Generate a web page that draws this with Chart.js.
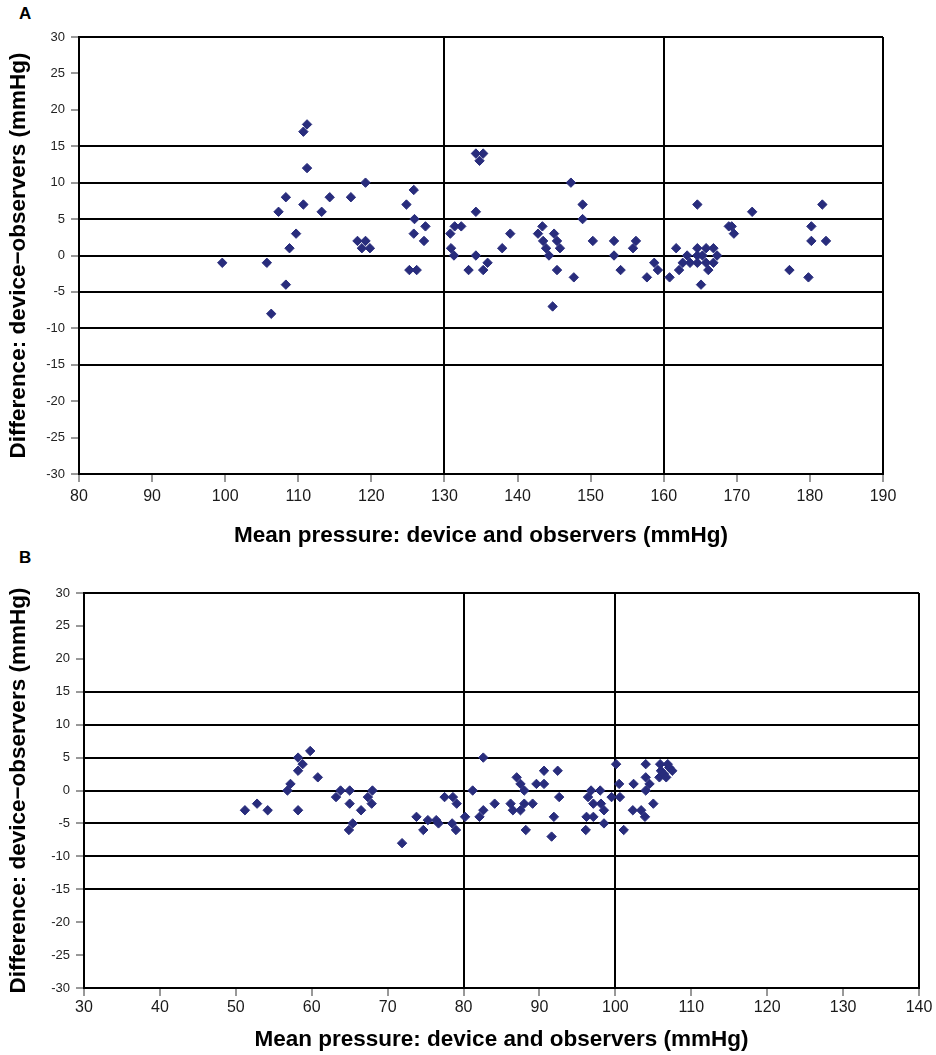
<!DOCTYPE html>
<html>
<head>
<meta charset="utf-8">
<script src="https://cdn.jsdelivr.net/npm/chart.js@4.4.1/dist/chart.umd.min.js"></script>
<style>
  html, body { margin:0; padding:0; background:#fff; }
  body { width:936px; height:1055px; position:relative; overflow:hidden; font-family:"Liberation Sans", Arial, sans-serif; }
  canvas { position:absolute; left:0; }
  .lbl { position:absolute; font-weight:bold; font-size:17px; color:#000; }
</style>
</head>
<body>
<div class="lbl" style="left:19px;top:4px;">A</div>
<div class="lbl" style="left:19px;top:548px;">B</div>
<canvas id="cA" width="936" height="550" style="top:0px;"></canvas>
<canvas id="cB" width="936" height="505" style="top:550px;"></canvas>
<script>
// ---- Panel A data ----
const meanA = [99.6,105.7,106.3,107.3,108.3,108.3,108.8,109.7,110.7,111.2,110.7,111.2,113.2,114.3,117.2,118.1,118.7,119.2,119.2,119.8,124.8,125.2,125.8,125.8,125.9,126.2,127.2,127.4,
130.8,130.9,131.3,131.4,132.3,133.3,134.3,134.3,134.3,134.8,135.3,135.3,135.9,137.9,139.0,142.8,143.4,143.5,143.9,144.3,144.8,145.0,145.4,145.4,145.8,147.3,147.7,148.9,148.9,150.3,153.2,153.2,154.1,155.8,156.2,157.7,158.7,159.2,
160.8,161.7,162.1,162.6,163.2,163.6,164.6,164.6,164.6,164.6,165.1,165.3,165.8,165.8,166.1,166.8,166.8,167.3,168.9,169.3,169.6,172.1,177.2,179.8,180.2,180.2,181.7,182.2];
const diffA = [-1,-1,-8,6,8,-4,1,3,17,18,7,12,6,8,8,2,1,2,10,1,7,-2,9,3,5,-2,2,4,
3,1,0,4,4,-2,6,0,14,13,14,-2,-1,1,3,3,4,2,1,0,-7,3,2,-2,1,10,-3,7,5,2,2,0,-2,1,2,-3,-1,-2,
-3,1,-2,-1,0,-1,7,1,0,-1,-4,0,1,-1,-2,1,-1,0,4,4,3,6,-2,-3,4,2,7,2];

// ---- Panel B data ----
const meanB = [51.2,52.8,54.2,56.8,57.2,58.2,58.2,58.2,58.8,59.8,60.8,63.2,63.8,64.9,65.0,65.0,65.4,66.5,67.4,67.9,68.0,71.9,73.8,74.7,75.3,76.4,76.7,77.5,78.5,78.6,79.0,79.1,
80.2,81.2,82.1,82.6,82.6,84.1,86.2,86.5,87.0,87.5,87.5,88.0,88.0,88.2,89.1,89.6,90.6,90.6,91.6,91.9,92.4,92.6,96.1,96.2,96.4,96.8,97.1,97.1,98.0,98.1,98.5,98.5,99.5,
100.1,100.5,100.6,101.1,102.4,102.3,103.4,103.9,104.0,104.0,104.0,104.5,105.0,105.8,105.9,106.0,106.4,106.7,106.9,107.1,107.5];
const diffB = [-3,-2,-3,0,1,5,3,-3,4,6,2,-1,0,-6,0,-2,-5,-3,-1,-2,0,-8,-4,-6,-4.5,-4.5,-5,-1,-5,-1,-6,-2,
-4,0,-4,5,-3,-2,-2,-3,2,1,-3,0,-2,-6,-2,1,3,1,-7,-4,3,-1,-6,-4,-1,0,-4,-2,0,-2,-3,-5,-1,
4,1,-1,-6,1,-3,-3,-4,4,2,0,1,-2,2,4,3,2.5,2,4,3.5,3];

// ---- axes / reference lines ----
const yRange = [-30, 30];
const yStep = 5;
const refY = [-15, -10, -5, 0, 5, 10, 15];
const xRangeA = [80, 190];
const refXA = [130, 160];
const xRangeB = [30, 140];
const refXB = [80, 100];
const xStep = 10;

const yTitle = 'Difference: device\u2212observers (mmHg)';
const xTitle = 'Mean pressure: device and observers (mmHg)';

const FAM = '"Liberation Sans", Arial, sans-serif';
const MARK = '#282c7c';

function makeChart(id, xs, ys, xRange, refX, geom) {
  const pts = xs.map((x, i) => ({x: x, y: ys[i]}));
  return new Chart(document.getElementById(id), {
    type: 'scatter',
    data: { datasets: [{
      data: pts,
      pointStyle: 'rectRot',
      pointRadius: 4.7,
      pointHoverRadius: 4.7,
      borderWidth: 1,
      backgroundColor: MARK,
      borderColor: MARK
    }]},
    options: {
      responsive: false,
      animation: false,
      devicePixelRatio: 1,
      layout: { padding: { top: geom.top, right: geom.right, left: 0, bottom: 0 } },
      plugins: { legend: { display: false }, tooltip: { enabled: false } },
      scales: {
        x: {
          type: 'linear', position: 'bottom',
          min: xRange[0], max: xRange[1],
          ticks: { stepSize: xStep, font: { size: 16, family: FAM }, color: '#1a1a1a', padding: geom.xPad, maxRotation: 0 },
          grid: {
            color: c => (refX.includes(c.tick.value) || c.tick.value === xRange[1]) ? '#000' : 'rgba(0,0,0,0)',
            lineWidth: 2, tickColor: '#333', tickWidth: 1, tickLength: 8
          },
          border: { color: '#000', width: 2 },
          title: { display: true, text: xTitle, color: '#000',
                   font: { size: 22.5, weight: 'bold', family: FAM }, padding: { top: 0, bottom: geom.xTitlePad } },
          afterFit: s => { s.height = geom.xH; }
        },
        y: {
          min: yRange[0], max: yRange[1],
          ticks: { stepSize: yStep, font: { size: 13, family: FAM }, color: '#222', padding: 6 },
          grid: {
            color: c => (refY.includes(c.tick.value) || c.tick.value === yRange[1]) ? '#000' : 'rgba(0,0,0,0)',
            lineWidth: 2, tickColor: '#333', tickWidth: 1, tickLength: 8
          },
          border: { color: '#000', width: 2 },
          title: { display: true, text: yTitle, color: '#000',
                   font: { size: 22.5, weight: 'bold', family: FAM }, padding: { top: 5, bottom: 0 } },
          afterFit: s => { s.width = geom.yW; }
        }
      }
    }
  });
}

makeChart('cA', meanA, diffA, xRangeA, refXA, { top: 37, right: 53, yW: 79, xH: 76, xPad: 5, xTitlePad: 1 });
makeChart('cB', meanB, diffB, xRangeB, refXB, { top: 43, right: 17, yW: 84, xH: 67, xPad: 2, xTitlePad: 2 });
</script>
</body>
</html>
